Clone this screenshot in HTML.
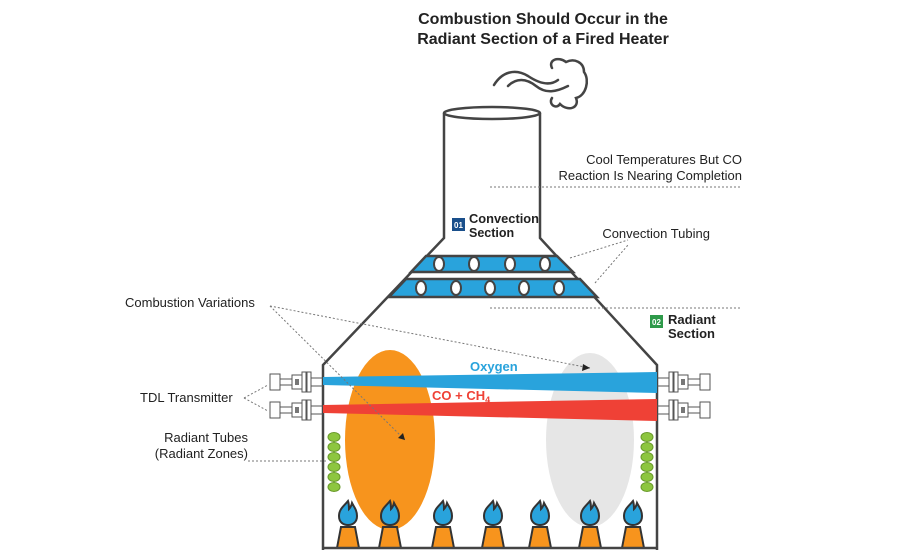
<!DOCTYPE html>
<html><head><meta charset="utf-8"><style>
body{margin:0;background:#fff}
svg{display:block;font-family:"Liberation Sans",sans-serif}
</style></head><body>
<svg width="900" height="550" viewBox="0 0 900 550">
<defs>
<g id="flame"><path d="M0,-14 C-4,-9 -9,-6 -9,1 C-9,7 -5,10 0,10 C5,10 9,7 9,1 C9,-5 6,-8 4,-12 C3,-8 2,-7 1,-6 C1,-9 1,-11 0,-14Z" fill="#29a3dc" stroke="#333" stroke-width="2"/>
<path d="M-7,12 L7,12 L11,33 L-11,33Z" fill="#f7941d" stroke="#333" stroke-width="2"/></g>
<g id="tdl"><rect x="0" y="-8" width="10" height="16" fill="#fff" stroke="#555" stroke-width="1"/>
<line x1="10" y1="-3" x2="22" y2="-3" stroke="#555"/><line x1="10" y1="3" x2="22" y2="3" stroke="#555"/>
<rect x="22" y="-7" width="10" height="14" fill="#fff" stroke="#555"/><rect x="25" y="-3" width="4" height="6" fill="#777"/>
<rect x="32" y="-10" width="4" height="20" fill="#fff" stroke="#555"/><rect x="37" y="-10" width="4" height="20" fill="#fff" stroke="#555"/>
<line x1="41" y1="-4" x2="53" y2="-4" stroke="#555"/><line x1="41" y1="4" x2="53" y2="4" stroke="#555"/></g>
</defs>
<text x="543" y="24" text-anchor="middle" font-size="16" font-weight="bold" fill="#222">Combustion Should Occur in the</text>
<text x="543" y="44" text-anchor="middle" font-size="16" font-weight="bold" fill="#222">Radiant Section of a Fired Heater</text>
<g fill="none" stroke="#444" stroke-width="2.5" stroke-linecap="round">
<path d="M494,85 C502,72 515,68 528,76 C540,84 550,86 558,80"/>
<path d="M508,86 C516,78 526,78 536,86 C546,94 556,92 568,86"/>
<path d="M552,68 C548,60 558,56 566,62 C574,58 584,62 584,72 C590,80 586,96 576,98 C580,108 568,112 560,104 C556,110 548,104 552,98"/>
</g>
<ellipse cx="492" cy="113" rx="48" ry="6" fill="#fff" stroke="#444" stroke-width="2.5"/>
<path d="M444,113 L444,238 L323,365 L323,550 M540,113 L540,238 L657,365 L657,550" fill="none" stroke="#444" stroke-width="2.5"/>
<path d="M426,256 L557,256 L573,272 L411,272Z" fill="#29a3dc" stroke="#444" stroke-width="2.5"/>
<path d="M406,279 L580,279 L597,297 L389,297Z" fill="#29a3dc" stroke="#444" stroke-width="2.5"/>
<g fill="#fff" stroke="#444" stroke-width="2">
<ellipse cx="439" cy="264" rx="5" ry="7"/><ellipse cx="474" cy="264" rx="5" ry="7"/><ellipse cx="510" cy="264" rx="5" ry="7"/><ellipse cx="545" cy="264" rx="5" ry="7"/>
<ellipse cx="421" cy="288" rx="5" ry="7"/><ellipse cx="456" cy="288" rx="5" ry="7"/><ellipse cx="490" cy="288" rx="5" ry="7"/><ellipse cx="524" cy="288" rx="5" ry="7"/><ellipse cx="559" cy="288" rx="5" ry="7"/>
</g>
<ellipse cx="390" cy="440" rx="45" ry="90" fill="#f7941d"/>
<ellipse cx="590" cy="440" rx="44" ry="87" fill="#e6e6e6"/>
<path d="M323,377 L657,372 L657,393 L323,385Z" fill="#29a3dc"/>
<path d="M323,405 L657,399 L657,421 L323,413Z" fill="#ef4136"/>
<text x="470" y="371" font-size="13" font-weight="bold" fill="#29a3dc">Oxygen</text>
<text x="432" y="400" font-size="13" font-weight="bold" fill="#ef4136">CO + CH<tspan font-size="9" dy="3">4</tspan></text>
<g fill="#8dc63f" stroke="#6a9a2a" stroke-width="1">
<ellipse cx="334" cy="437" rx="6" ry="4.5"/><ellipse cx="334" cy="447" rx="6" ry="4.5"/><ellipse cx="334" cy="457" rx="6" ry="4.5"/><ellipse cx="334" cy="467" rx="6" ry="4.5"/><ellipse cx="334" cy="477" rx="6" ry="4.5"/><ellipse cx="334" cy="487" rx="6" ry="4.5"/>
<ellipse cx="647" cy="437" rx="6" ry="4.5"/><ellipse cx="647" cy="447" rx="6" ry="4.5"/><ellipse cx="647" cy="457" rx="6" ry="4.5"/><ellipse cx="647" cy="467" rx="6" ry="4.5"/><ellipse cx="647" cy="477" rx="6" ry="4.5"/><ellipse cx="647" cy="487" rx="6" ry="4.5"/>
</g>
<use href="#flame" x="348" y="515"/><use href="#flame" x="390" y="515"/><use href="#flame" x="443" y="515"/><use href="#flame" x="493" y="515"/><use href="#flame" x="540" y="515"/><use href="#flame" x="590" y="515"/><use href="#flame" x="633" y="515"/>
<line x1="323" y1="548" x2="657" y2="548" stroke="#444" stroke-width="2.5"/>
<use href="#tdl" x="270" y="382"/><use href="#tdl" x="270" y="410"/>
<use href="#tdl" transform="translate(710,382) scale(-1,1)"/><use href="#tdl" transform="translate(710,410) scale(-1,1)"/>
<g stroke="#777" stroke-width="1" stroke-dasharray="2,2" fill="none">
<line x1="490" y1="187" x2="740" y2="187"/>
<line x1="570" y1="258" x2="628" y2="240"/><line x1="595" y1="283" x2="628" y2="245"/>
<line x1="490" y1="308" x2="740" y2="308"/>
<line x1="270" y1="306" x2="405" y2="440"/><line x1="270" y1="306" x2="590" y2="368"/>
<line x1="244" y1="398" x2="268" y2="385"/><line x1="244" y1="398" x2="268" y2="411"/>
<line x1="248" y1="461" x2="328" y2="461"/>
</g>
<path d="M405,440 l-7,-2 l5,-5Z M590,368 l-7,-4 l-1,7Z" fill="#222"/>
<g font-size="13" fill="#222">
<text x="742" y="164" text-anchor="end">Cool Temperatures But CO</text>
<text x="742" y="180" text-anchor="end">Reaction Is Nearing Completion</text>
<text x="710" y="238" text-anchor="end">Convection Tubing</text>
<text x="125" y="307">Combustion Variations</text>
<text x="140" y="402">TDL Transmitter</text>
<text x="248" y="442" text-anchor="end">Radiant Tubes</text>
<text x="248" y="458" text-anchor="end">(Radiant Zones)</text>
</g>
<rect x="452" y="218" width="13" height="13" fill="#1a4f8b"/><text x="458.5" y="228" text-anchor="middle" font-size="8" fill="#fff" font-weight="bold">01</text>
<text x="469" y="223" font-size="12.5" font-weight="bold" fill="#222" textLength="70" lengthAdjust="spacingAndGlyphs">Convection</text>
<text x="469" y="237" font-size="12.5" font-weight="bold" fill="#222">Section</text>
<rect x="650" y="315" width="13" height="13" fill="#2e9a4a"/><text x="656.5" y="325" text-anchor="middle" font-size="8" fill="#fff" font-weight="bold">02</text>
<text x="668" y="324" font-size="13" font-weight="bold" fill="#222">Radiant</text>
<text x="668" y="338" font-size="13" font-weight="bold" fill="#222">Section</text>
</svg>
</body></html>
